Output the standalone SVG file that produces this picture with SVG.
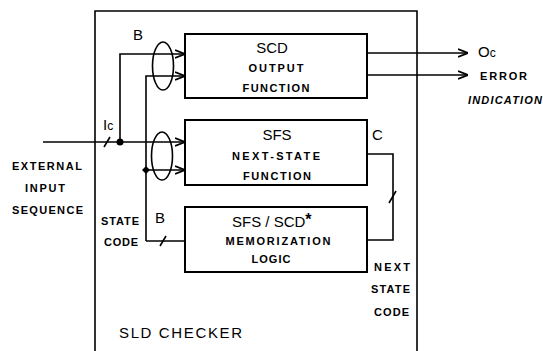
<svg xmlns="http://www.w3.org/2000/svg" width="543" height="351" viewBox="0 0 543 351">
<defs>
<style>
.ln{fill:none;stroke:#000;stroke-width:1.6}
.bx{fill:#fff;stroke:#000;stroke-width:2}
.big{font-family:"Liberation Sans",Arial,sans-serif;font-size:15px;fill:#000}
.lbl{font-family:"Liberation Sans",Arial,sans-serif;font-size:11px;font-weight:bold;fill:#000}
</style>
<marker id="ah" viewBox="0 0 10 10" refX="10" refY="5" markerWidth="10" markerHeight="10" markerUnits="userSpaceOnUse" orient="auto">
<path d="M0,1 L10,5 L0,9" fill="none" stroke="#000" stroke-width="1.8"/>
</marker>
</defs>
<rect width="543" height="351" fill="#fff"/>
<g id="checker">
<path class="ln" d="M95,351 V11 H417 V351" stroke-width="2"/>
<text class="big" x="119" y="338" font-size="17" textLength="123" lengthAdjust="spacing">SLD CHECKER</text>
</g>
<g id="scd">
<rect class="bx" x="185" y="34" width="182" height="64"/>
<text class="big" x="272" y="53" text-anchor="middle">SCD</text>
<text class="lbl" x="276" y="72" text-anchor="middle" textLength="55" lengthAdjust="spacing">OUTPUT</text>
<text class="lbl" x="276" y="92" text-anchor="middle" textLength="67" lengthAdjust="spacing">FUNCTION</text>
</g>
<g id="sfs">
<rect class="bx" x="185" y="120" width="182" height="65"/>
<text class="big" x="277" y="140" text-anchor="middle">SFS</text>
<text class="lbl" x="276" y="160" text-anchor="middle" textLength="88" lengthAdjust="spacing">NEXT-STATE</text>
<text class="lbl" x="277" y="180" text-anchor="middle" textLength="68" lengthAdjust="spacing">FUNCTION</text>
</g>
<g id="mem">
<rect class="bx" x="185" y="207" width="182" height="65"/>
<text class="big" x="232" y="227">SFS / SCD<tspan font-weight="bold" font-size="16" dy="-2">*</tspan></text>
<text class="lbl" x="278" y="245" text-anchor="middle" textLength="105" lengthAdjust="spacing">MEMORIZATION</text>
<text class="lbl" x="271" y="263" text-anchor="middle" textLength="39" lengthAdjust="spacing">LOGIC</text>
</g>
<g id="connectors">
<path class="ln" d="M43,142 H185" marker-end="url(#ah)"/>
<path class="ln" d="M120,142 V54 H185" marker-end="url(#ah)"/>
<path class="ln" d="M146,241 V76 H185" marker-end="url(#ah)"/>
<path class="ln" d="M146,170 H185" marker-end="url(#ah)"/>
<path class="ln" d="M146,241 H185"/>
<path class="ln" d="M367,53 H468" marker-end="url(#ah)"/>
<path class="ln" d="M367,75 H468" marker-end="url(#ah)"/>
<path class="ln" d="M367,154 H393 V240 H367"/>
<path class="ln" d="M104,147 L110,137"/>
<path class="ln" d="M160,246 L166,236"/>
<path class="ln" d="M389,203 L396,191"/>
<circle cx="120" cy="142" r="3.5" fill="#000"/>
<path d="M146,166 L150,170 L146,174 L142,170 Z" fill="#000"/>
<ellipse class="ln" cx="163" cy="66" rx="10.5" ry="24" stroke-width="1.3"/>
<ellipse class="ln" cx="162" cy="156" rx="10.5" ry="24" stroke-width="1.3"/>
</g>
<g id="labels">
<text class="big" x="133" y="40">B</text>
<text class="big" x="155" y="223">B</text>
<text class="big" x="372" y="140">C</text>
<text class="big" x="103" y="130">I<tspan font-size="12">c</tspan></text>
<text class="big" x="478" y="57">O<tspan font-size="12">c</tspan></text>
<text class="lbl" x="480" y="80" textLength="47" lengthAdjust="spacing">ERROR</text>
<text class="lbl" x="468" y="104" textLength="74" lengthAdjust="spacing" font-style="italic">INDICATION</text>
<text class="lbl" x="12" y="170" textLength="70" lengthAdjust="spacing">EXTERNAL</text>
<text class="lbl" x="25" y="192" textLength="40" lengthAdjust="spacing">INPUT</text>
<text class="lbl" x="12" y="214" textLength="71" lengthAdjust="spacing">SEQUENCE</text>
<text class="lbl" x="101" y="225" textLength="38" lengthAdjust="spacing">STATE</text>
<text class="lbl" x="104" y="246" textLength="34" lengthAdjust="spacing">CODE</text>
<text class="lbl" x="374" y="271" textLength="36" lengthAdjust="spacing">NEXT</text>
<text class="lbl" x="371" y="293" textLength="39" lengthAdjust="spacing">STATE</text>
<text class="lbl" x="374" y="316" textLength="35" lengthAdjust="spacing">CODE</text>
</g>
</svg>
